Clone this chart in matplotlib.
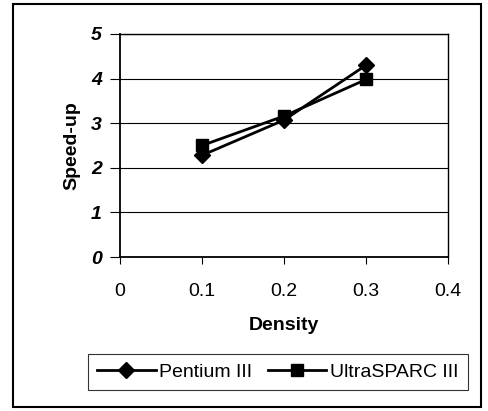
import matplotlib
matplotlib.use("Agg")
import matplotlib.pyplot as plt
from matplotlib.patches import Rectangle

plt.rcParams['font.family'] = ['Liberation Sans', 'DejaVu Sans']

density = [0.1, 0.2, 0.3]
pentium = [2.28, 3.07, 4.30]
ultrasparc = [2.50, 3.16, 3.98]
x_ticks = [0, 0.1, 0.2, 0.3, 0.4]
y_ticks = [0, 1, 2, 3, 4, 5]

FS = 14

fig = plt.figure(figsize=(4.88, 4.11), dpi=100)
fig.patches.append(Rectangle((13/488, 1 - 407/411), 468/488, 403/411,
                             transform=fig.transFigure, fill=False,
                             edgecolor='black', linewidth=1.5))

ax = fig.add_axes([120/488, 1 - 257/411, 328/488, 223/411])
ax.plot(density, pentium, color='black', linewidth=2, marker='D',
        markersize=8, label='Pentium III')
ax.plot(density, ultrasparc, color='black', linewidth=2, marker='s',
        markersize=9, label='UltraSPARC III')

ax.set_xlim(0, 0.4)
ax.set_ylim(0, 5)
ax.set_xticks(x_ticks)
ax.set_xticklabels([f"{v:g}" for v in x_ticks], fontsize=FS)
ax.set_yticks(y_ticks)
ax.set_yticklabels([str(v) for v in y_ticks], fontsize=FS,
                   fontweight='bold', fontstyle='italic')
ax.yaxis.grid(True, color='black', linewidth=0.8)
ax.set_axisbelow(True)
for s in ax.spines.values():
    s.set_color('black')
    s.set_linewidth(1)
ax.spines['left'].set_linewidth(1.3)
ax.spines['bottom'].set_linewidth(1.3)
ax.tick_params(axis='x', direction='out', length=5, pad=14, color='black')
ax.tick_params(axis='y', direction='out', length=7, pad=6, color='black')
ax.set_xlabel('Density', fontsize=FS, fontweight='bold', labelpad=12)
ax.set_ylabel('Speed-up', fontsize=FS, fontweight='bold', labelpad=8)

leg = fig.legend(loc='center', bbox_to_anchor=(278/488, 1 - 372/411), ncol=2,
                 fontsize=FS, frameon=True, fancybox=False, edgecolor='black',
                 handlelength=3.0, columnspacing=0.8, handletextpad=0.2,
                 borderpad=0.45, borderaxespad=0)
leg.get_frame().set_linewidth(0.8)

fig.savefig('out.png', dpi=100)
